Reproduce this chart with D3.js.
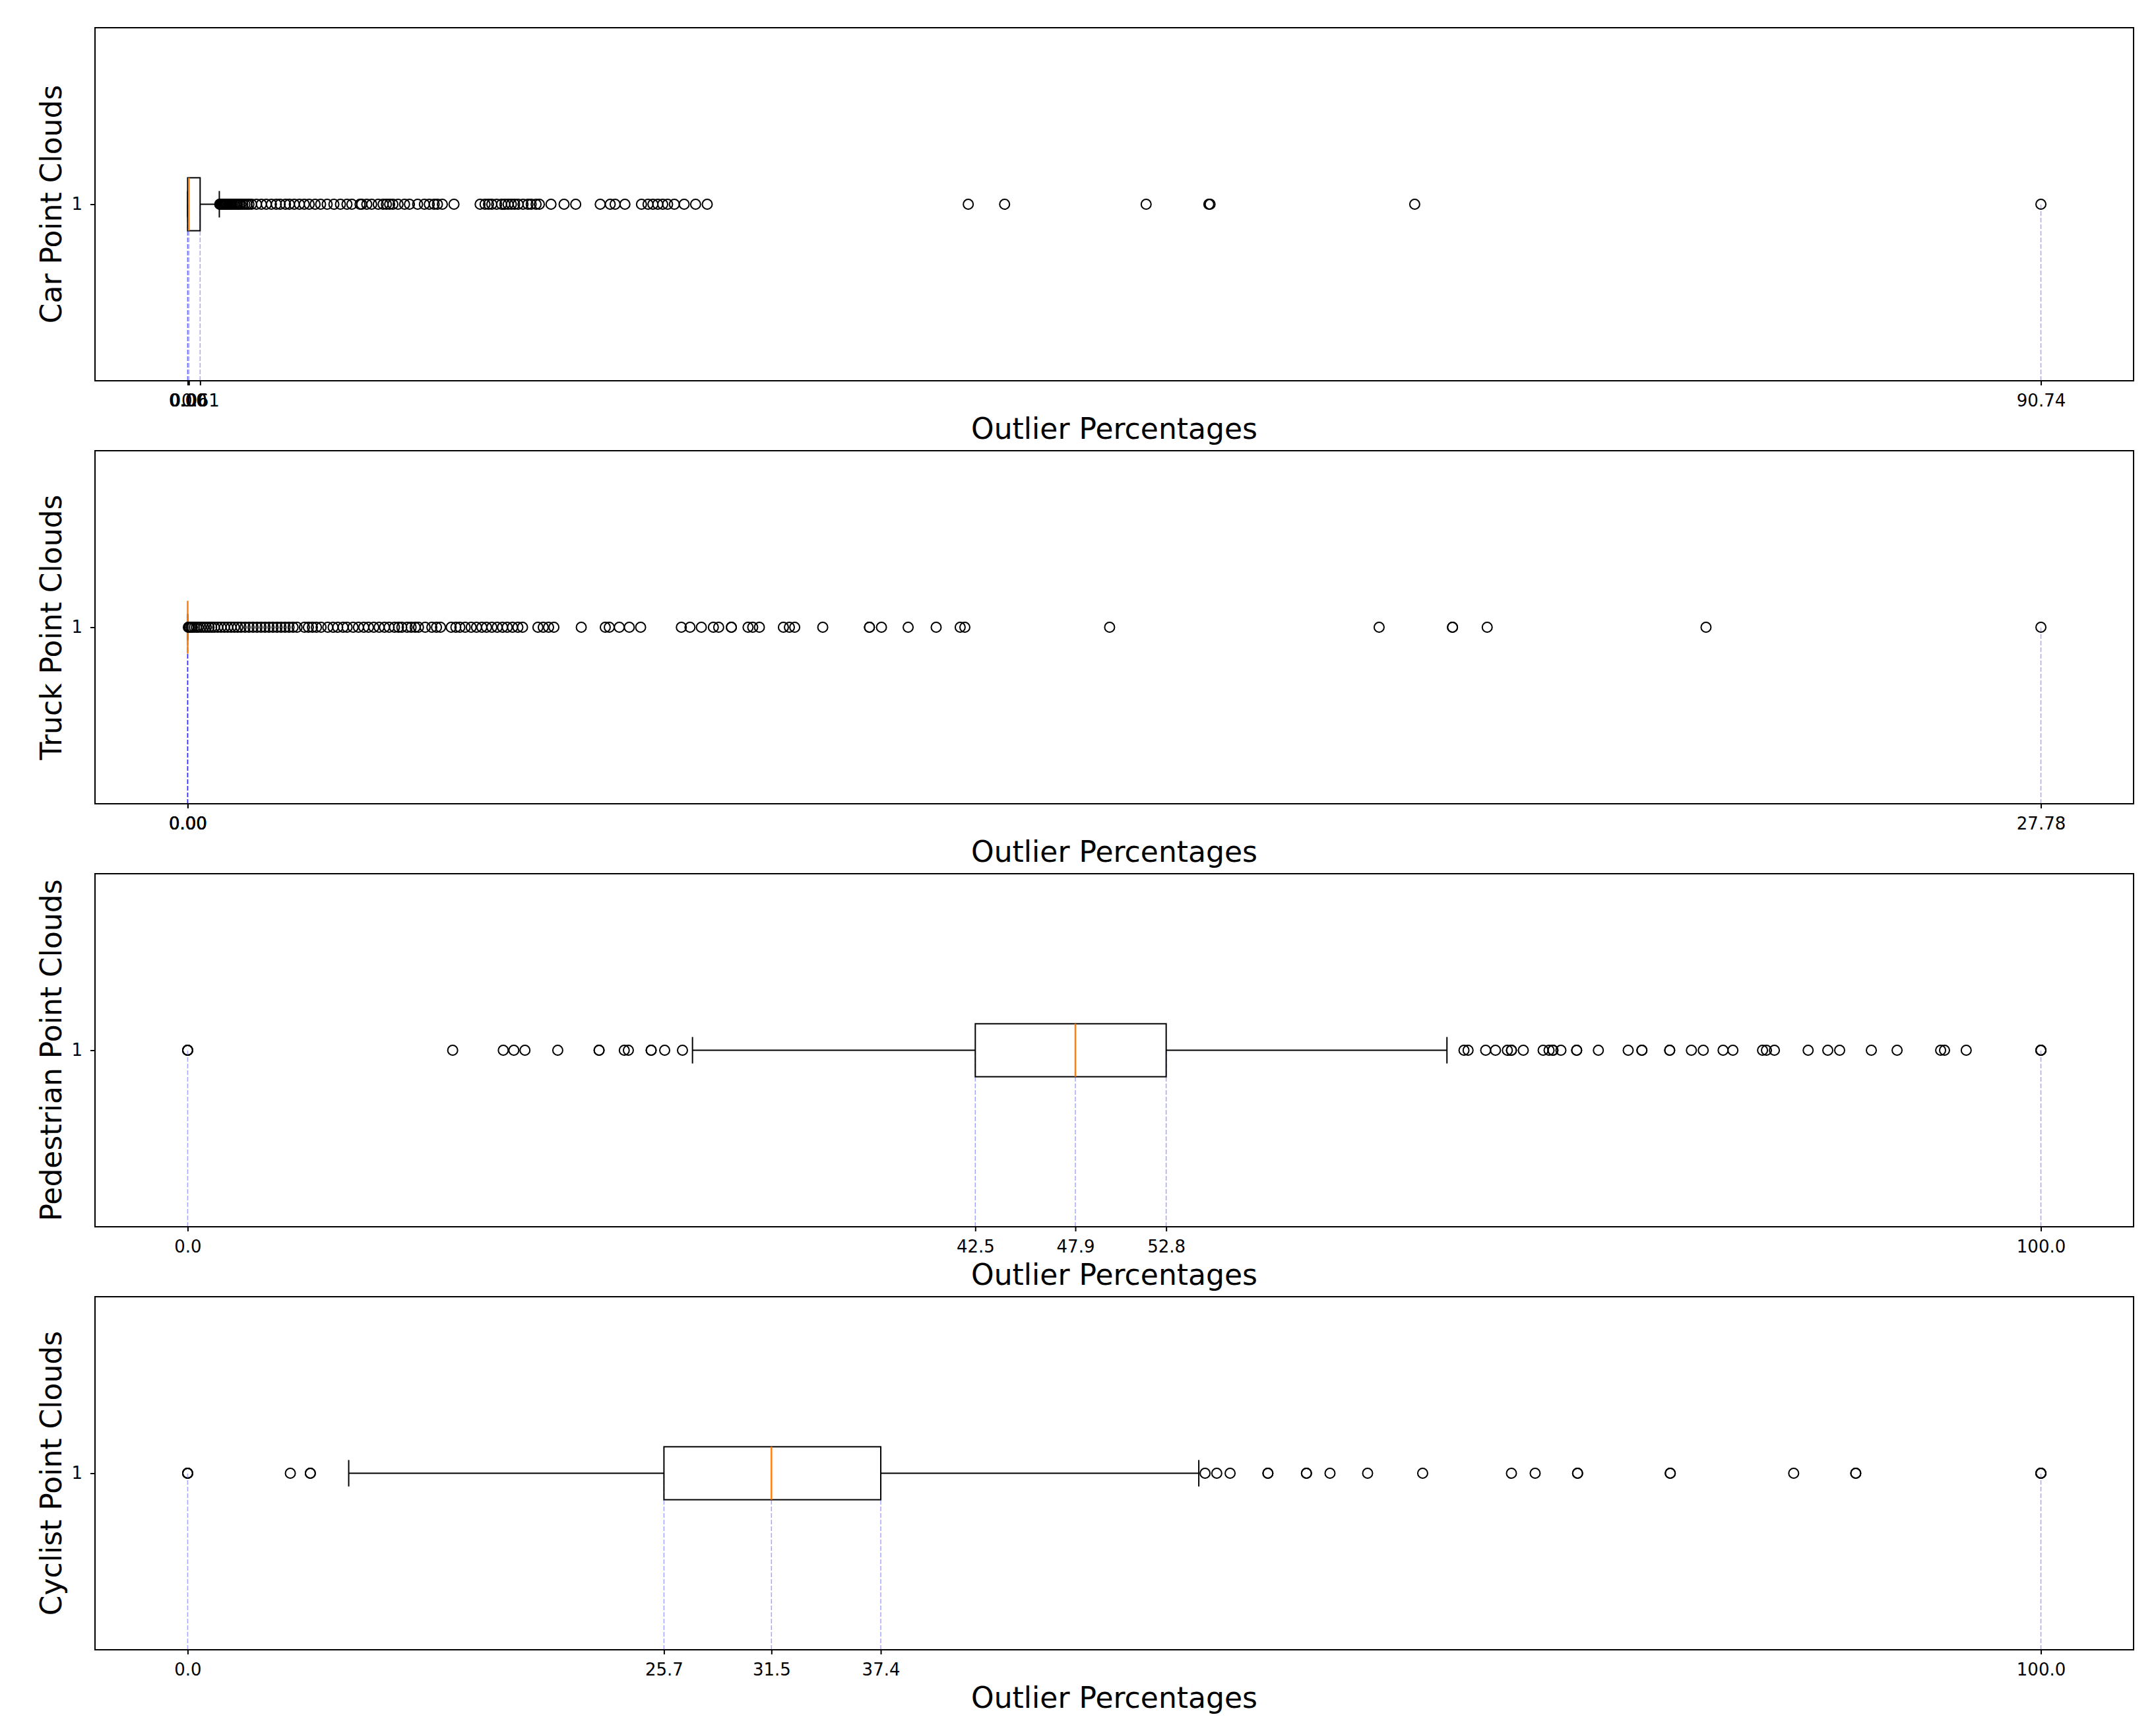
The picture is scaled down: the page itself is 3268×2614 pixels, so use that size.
<!DOCTYPE html>
<meta charset="utf-8">
<script src="https://d3js.org/d3.v7.min.js"></script>
<style>
  body { margin: 0; background: #fff; }
  text { font-family: "DejaVu Sans", sans-serif; }
</style>
<body>
  <div id="chart"></div>
</body>
<script>

  // box stats per class: [min, q1, median, q3, max]  (ticks are placed at these)
  const classes = ["Car", "Truck", "Pedestrian", "Cyclist"];
  const carStats = [0, 0, 0.06, 0.61, 90.74];
  const truckStats = [0, 0, 0, 0, 27.78];
  const pedStats = [0, 42.5, 47.9, 52.8, 100];
  const cycStats = [0, 25.7, 31.5, 37.4, 100];

  // whisker ends [low, high]
  const carWhiskers = [0, 1.55];
  const truckWhiskers = [0, 0];
  const pedWhiskers = [27.24, 67.95];
  const cycWhiskers = [8.69, 54.56];

  // tick labels, same order as the stats
  const carTicks = ["0.00", "0.00", "0.06", "0.61", "90.74"];
  const truckTicks = ["0.00", "0.00", "0.00", "0.00", "27.78"];
  const pedTicks = ["0.0", "42.5", "47.9", "52.8", "100.0"];
  const cycTicks = ["0.0", "25.7", "31.5", "37.4", "100.0"];

  // outliers (fliers)
  const carFliers = [1.57,1.6,1.62,1.65,1.68,1.7,1.73,1.76,1.8,1.83,1.86,1.9,1.95,2.0,2.05,2.1,2.16,2.22,2.3,2.38,
    2.45,2.53,2.6,2.7,2.8,2.9,3.0,3.13,3.37,3.61,3.85,4.10,4.34,4.53,4.79,4.98,5.22,5.47,5.71,5.95,6.24,6.51,6.83,
    7.16,7.48,7.80,8.04,8.44,8.52,8.77,9.01,9.33,9.57,9.73,9.89,10.05,10.30,10.62,10.86,11.26,11.59,11.83,12.07,
    12.23,12.47,13.04,14.32,14.56,14.73,14.89,15.13,15.37,15.53,15.69,15.85,16.01,16.18,16.42,16.66,16.82,17.06,
    17.22,17.79,18.43,19.00,20.20,20.69,20.93,21.41,22.22,22.54,22.78,23.02,23.26,23.50,23.83,24.31,24.87,25.44,
    38.22,40.0,46.93,50.0,50.06,60.08,90.74];
  const truckFliers = [0.01,0.02,0.03,0.05,0.07,0.1,0.13,0.16,0.2,0.24,0.28,0.32,0.36,0.4,0.45,0.5,0.55,0.6,0.65,
    0.7,0.75,0.8,0.86,0.92,0.98,1.04,1.1,1.16,1.22,1.28,1.34,1.4,1.46,1.52,1.58,1.64,1.75,1.81,1.87,1.93,2.00,2.10,
    2.18,2.25,2.33,2.39,2.48,2.56,2.64,2.71,2.79,2.87,2.95,3.02,3.10,3.16,3.21,3.29,3.35,3.41,3.46,3.56,3.66,3.73,
    3.79,3.95,4.02,4.08,4.16,4.25,4.33,4.41,4.48,4.56,4.64,4.72,4.79,4.87,4.95,5.02,5.25,5.33,5.41,5.49,5.9,6.26,
    6.32,6.47,6.62,6.79,7.40,7.53,7.70,7.88,7.96,8.15,8.15,8.40,8.47,8.57,8.93,9.02,9.10,9.52,10.22,10.22,10.40,
    10.80,11.22,11.58,11.65,13.82,17.86,18.96,18.96,19.48,22.76,27.78];
  const pedFliers = [0,0,0,14.30,17.03,17.60,18.20,19.97,22.20,22.20,23.56,23.78,25.01,25.01,25.74,26.70,
    68.87,69.09,70.04,70.57,71.21,71.43,71.43,72.07,73.14,73.46,73.67,73.67,74.10,74.95,74.95,76.12,77.73,78.47,
    78.47,79.97,79.97,81.14,81.78,82.85,83.38,84.98,85.19,85.62,87.44,88.50,89.14,90.85,92.24,94.59,94.80,95.97,
    100,100,100];
  const cycFliers = [0,0,0,5.54,6.62,6.62,54.9,55.53,56.25,58.29,58.29,60.37,60.37,61.64,63.67,66.64,71.43,72.71,
    75.0,75.0,80.0,80.0,86.66,90.01,90.01,100,100,100];

  const panels = [
    {name: classes[0], stats: carStats, whisk: carWhiskers, ticks: carTicks, fliers: carFliers},
    {name: classes[1], stats: truckStats, whisk: truckWhiskers, ticks: truckTicks, fliers: truckFliers},
    {name: classes[2], stats: pedStats, whisk: pedWhiskers, ticks: pedTicks, fliers: pedFliers},
    {name: classes[3], stats: cycStats, whisk: cycWhiskers, ticks: cycTicks, fliers: cycFliers}
  ];

  const W = 3268, H = 2614;
  const left = 144, width = 3090, height = 535, top0 = 42, step = 641;

  const svg = d3.select("#chart").append("svg")
    .attr("width", W).attr("height", H)
    .style("background", "#fff");

  panels.forEach(function(p, i) {
    const g = svg.append("g")
      .attr("transform", `translate(${left},${top0 + i * step})`);

    const ext = d3.extent(p.fliers.concat(p.stats));
    const pad = (ext[1] - ext[0]) * 0.05;
    const x = d3.scaleLinear().domain([ext[0] - pad, ext[1] + pad]).range([0, width]);
    const y = d3.scaleLinear().domain([0.5, 1.5]).range([height, 0]);

    const boxW = 0.15;

    // dashed guide lines from the axis up to the box centre
    g.selectAll(".guide")
      .data(p.stats)
      .join("line")
        .attr("x1", d => x(d)).attr("x2", d => x(d))
        .attr("y1", y(0.5)).attr("y2", y(1))
        .style("stroke", "rgba(0,0,255,0.35)")
        .style("stroke-width", 1.5)
        .style("stroke-dasharray", "7,3");

    // whiskers
    g.append("line")
      .attr("x1", x(p.whisk[0])).attr("x2", x(p.stats[1]))
      .attr("y1", y(1)).attr("y2", y(1))
      .style("stroke", "#000").style("stroke-width", 2);
    g.append("line")
      .attr("x1", x(p.stats[3])).attr("x2", x(p.whisk[1]))
      .attr("y1", y(1)).attr("y2", y(1))
      .style("stroke", "#000").style("stroke-width", 2);
    g.selectAll(".cap")
      .data(p.whisk)
      .join("line")
        .attr("x1", d => x(d)).attr("x2", d => x(d))
        .attr("y1", y(1 - boxW / 4)).attr("y2", y(1 + boxW / 4))
        .style("stroke", "#000").style("stroke-width", 2);

    // box
    g.append("rect")
      .attr("x", x(p.stats[1]))
      .attr("width", x(p.stats[3]) - x(p.stats[1]))
      .attr("y", y(1 + boxW / 2))
      .attr("height", y(1 - boxW / 2) - y(1 + boxW / 2))
      .style("fill", "none").style("stroke", "#000").style("stroke-width", 2);

    // median
    g.append("line")
      .attr("x1", x(p.stats[2])).attr("x2", x(p.stats[2]))
      .attr("y1", y(1 + boxW / 2)).attr("y2", y(1 - boxW / 2))
      .style("stroke", "#ff7f0e").style("stroke-width", 2.5);

    // fliers
    g.selectAll(".flier")
      .data(p.fliers)
      .join("circle")
        .attr("cx", d => x(d)).attr("cy", y(1)).attr("r", 7.5)
        .style("fill", "none").style("stroke", "#000").style("stroke-width", 2);

    // x axis
    const xa = g.append("g")
      .attr("transform", `translate(0,${height})`)
      .call(d3.axisBottom(x).tickValues(p.stats)
        .tickFormat((d, k) => p.ticks[k]).tickSize(7).tickPadding(14));
    xa.select(".domain").remove();
    xa.selectAll("line").style("stroke-width", 2);
    xa.selectAll("text").style("font-size", "26px").style("font-family", "DejaVu Sans");

    // y axis
    const ya = g.append("g")
      .call(d3.axisLeft(y).tickValues([1]).tickFormat(d3.format("d")).tickSize(7).tickPadding(12));
    ya.select(".domain").remove();
    ya.selectAll("line").style("stroke-width", 2);
    ya.selectAll("text").style("font-size", "26px").style("font-family", "DejaVu Sans");

    // frame
    g.append("rect")
      .attr("width", width).attr("height", height)
      .style("fill", "none").style("stroke", "#000").style("stroke-width", 2);

    // labels
    g.append("text")
      .attr("x", width / 2).attr("y", height + 88)
      .attr("text-anchor", "middle")
      .style("font-size", "44px")
      .text("Outlier Percentages");

    g.append("text")
      .attr("transform", `translate(${93 - left},${height / 2}) rotate(-90)`)
      .attr("text-anchor", "middle")
      .style("font-size", "44px")
      .text(p.name + " Point Clouds");
  });

</script>
